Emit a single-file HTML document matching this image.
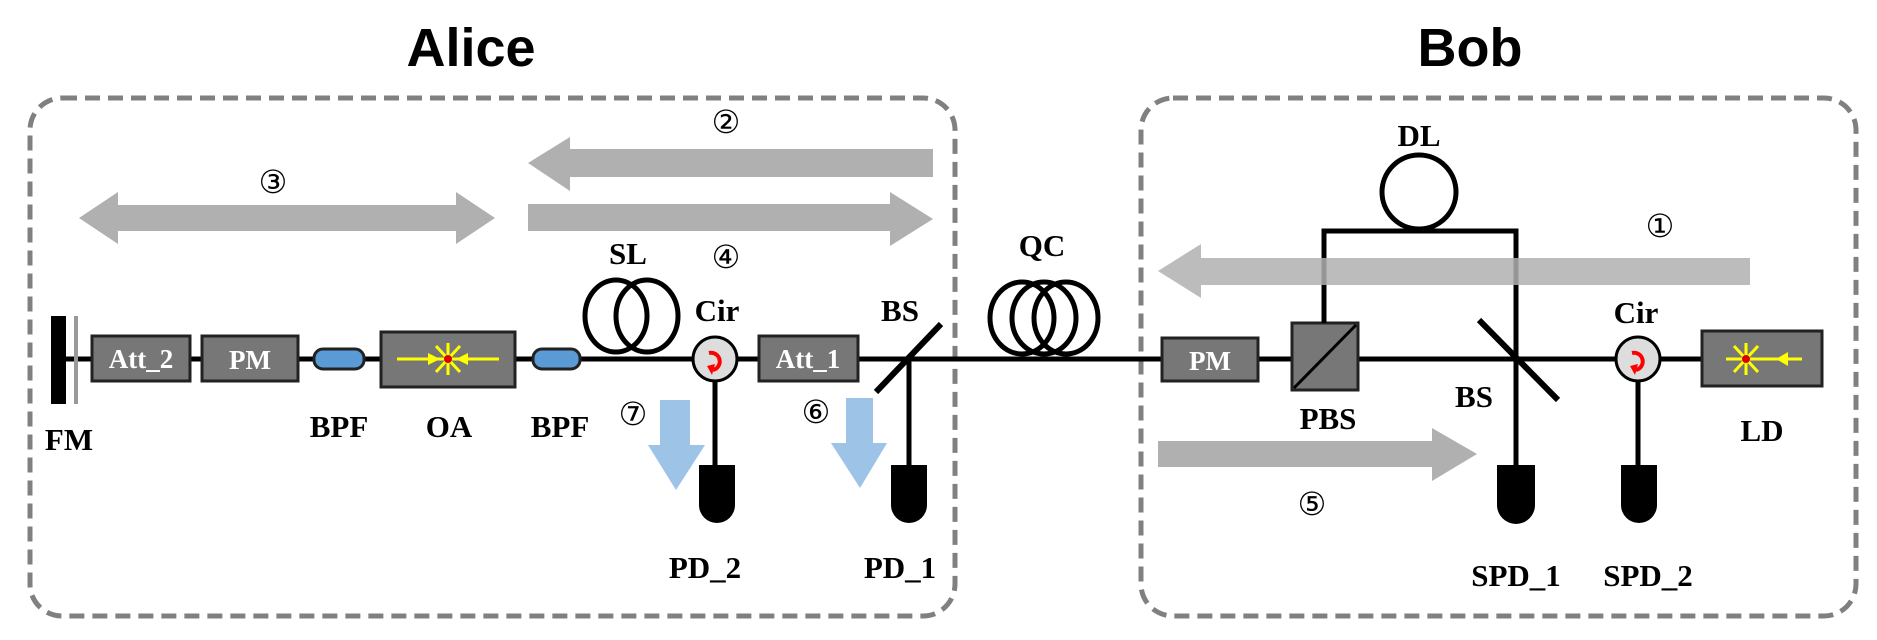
<!DOCTYPE html>
<html><head><meta charset="utf-8"><style>
html,body{margin:0;padding:0;background:#fff;width:1877px;height:640px;overflow:hidden}
svg{display:block}
.t{font-family:"Liberation Serif",serif;font-weight:bold;font-size:31px;fill:#000;text-anchor:middle}
.w{font-family:"Liberation Serif",serif;font-weight:bold;font-size:27px;fill:#fff;text-anchor:middle}
.n{font-family:"DejaVu Serif","Liberation Serif",serif;font-size:32px;fill:#000;text-anchor:middle}
.h{font-family:"Liberation Sans",sans-serif;font-weight:bold;font-size:54px;fill:#000;text-anchor:middle}
.box{fill:#777;stroke:#222;stroke-width:3}
</style></head><body>
<svg width="1877" height="640" viewBox="0 0 1877 640" xmlns="http://www.w3.org/2000/svg">
<text class="h" x="471" y="66">Alice</text>
<text class="h" x="1470" y="66">Bob</text>
<rect x="30" y="98" width="925" height="518" rx="32" fill="none" stroke="#808080" stroke-width="5" stroke-dasharray="15 8"/>
<rect x="1141" y="98" width="715" height="518" rx="32" fill="none" stroke="#808080" stroke-width="5" stroke-dasharray="15 8"/>

<g fill="#b0b0b0">
<polygon points="79,218 118,192 118,205 456,205 456,192 495,218 456,244 456,231 118,231 118,244"/>
<polygon points="528,163 570,137 570,149 933,149 933,177 570,177 570,191"/>
<polygon points="528,204 890,204 890,192 933,219 890,246 890,231 528,231"/>
<polygon points="1158,441 1432,441 1432,428 1477,454 1432,481 1432,467 1158,467"/>
</g>
<text class="n" x="273" y="193">③</text>
<text class="n" x="726" y="133">②</text>
<text class="n" x="726" y="268">④</text>
<text class="n" x="1312" y="515">⑤</text>
<text class="n" x="1660" y="237">①</text>
<text class="n" x="633" y="425">⑦</text>
<text class="n" x="816" y="423">⑥</text>

<line x1="66" y1="359" x2="1701" y2="359" stroke="#000" stroke-width="5"/>
<rect x="51" y="316" width="15" height="88" fill="#000"/>
<rect x="74" y="316" width="4" height="88" fill="#999"/>
<rect class="box" x="92" y="336" width="98" height="45"/><text class="w" x="141" y="368">Att_2</text>
<rect class="box" x="202" y="336" width="96" height="45"/><text class="w" x="250" y="369">PM</text>
<rect x="314" y="349" width="50" height="20" rx="9" fill="#5b9bd5" stroke="#222" stroke-width="3"/>
<rect class="box" x="381" y="332" width="134" height="55"/>
<g stroke="#ff0" stroke-width="3">
<line x1="448" y1="343" x2="448" y2="375"/><line x1="436" y1="346" x2="460" y2="372"/><line x1="460" y1="346" x2="436" y2="372"/>
<line x1="397" y1="359" x2="499" y2="359"/>
</g>
<polygon points="440,359 428,353 428,365" fill="#ff0"/><polygon points="456,359 468,353 468,365" fill="#ff0"/>
<circle cx="448" cy="359" r="4" fill="#d00"/>
<rect x="533" y="349" width="47" height="20" rx="9" fill="#5b9bd5" stroke="#222" stroke-width="3"/>
<ellipse cx="616" cy="316" rx="31" ry="36" fill="none" stroke="#000" stroke-width="5"/>
<ellipse cx="647" cy="316" rx="31" ry="36" fill="none" stroke="#000" stroke-width="5"/>
<line x1="715" y1="359" x2="715" y2="470" stroke="#000" stroke-width="5"/>
<circle cx="715" cy="359" r="22" fill="#ddd" stroke="#000" stroke-width="3"/>
<path d="M709,353 A8,8 0 1 1 713,370" fill="none" stroke="#f00" stroke-width="4"/>
<polygon points="707,366 715,364 712,375" fill="#f00"/>
<rect class="box" x="759" y="336" width="99" height="45"/><text class="w" x="808" y="368">Att_1</text>
<line x1="909" y1="359" x2="909" y2="470" stroke="#000" stroke-width="5"/>
<line x1="876" y1="392" x2="941" y2="324" stroke="#000" stroke-width="6"/>
<path d="M699,465 H735 V505 A18,18 0 0 1 699,505 Z" fill="#000"/>
<path d="M891,465 H927 V505 A18,18 0 0 1 891,505 Z" fill="#000"/>
<polygon points="660,400 690,400 690,445 705,445 676,490 648,445 660,445" fill="#9dc3e6"/>
<polygon points="846,398 873,398 873,443 887,443 860,488 831,443 846,443" fill="#9dc3e6"/>
<g fill="none" stroke="#000" stroke-width="5">
<ellipse cx="1022" cy="318" rx="32" ry="36"/><ellipse cx="1044" cy="318" rx="32" ry="36"/><ellipse cx="1066" cy="318" rx="32" ry="36"/>
</g>
<rect class="box" x="1162" y="338" width="96" height="43"/><text class="w" x="1210" y="370">PM</text>
<rect class="box" x="1292" y="323" width="66" height="67"/>
<line x1="1294" y1="388" x2="1356" y2="325" stroke="#000" stroke-width="3"/>
<path d="M1324,323 V231 H1516 V470" fill="none" stroke="#000" stroke-width="5"/>
<circle cx="1419" cy="192" r="37" fill="#fff" stroke="#000" stroke-width="5"/>
<line x1="1479" y1="320" x2="1558" y2="400" stroke="#000" stroke-width="6"/>
<path d="M1497,465 H1535 V505 A19,19 0 0 1 1497,505 Z" fill="#000"/>
<line x1="1638" y1="359" x2="1638" y2="470" stroke="#000" stroke-width="5"/>
<circle cx="1638" cy="359" r="22" fill="#ddd" stroke="#000" stroke-width="3"/>
<path d="M1632,353 A8,8 0 1 1 1636,370" fill="none" stroke="#f00" stroke-width="4"/>
<polygon points="1630,366 1638,364 1635,375" fill="#f00"/>
<path d="M1621,465 H1657 V505 A18,18 0 0 1 1621,505 Z" fill="#000"/>
<rect class="box" x="1702" y="331" width="120" height="55"/>
<g stroke="#ff0" stroke-width="3">
<line x1="1746" y1="343" x2="1746" y2="375"/><line x1="1734" y1="346" x2="1758" y2="372"/><line x1="1758" y1="346" x2="1734" y2="372"/>
<line x1="1726" y1="359" x2="1802" y2="359"/>
</g>
<polygon points="1776,359 1788,352 1788,366" fill="#ff0"/>
<circle cx="1746" cy="359" r="4" fill="#d00"/>
<polygon points="1158,271 1201,244 1201,258 1750,258 1750,285 1201,285 1201,298" fill="#b0b0b0" opacity="0.85"/>

<text class="t" x="69" y="450">FM</text>
<text class="t" x="339" y="437">BPF</text>
<text class="t" x="449" y="437">OA</text>
<text class="t" x="560" y="437">BPF</text>
<text class="t" x="628" y="264">SL</text>
<text class="t" x="717" y="321">Cir</text>
<text class="t" x="900" y="321">BS</text>
<text class="t" x="705" y="578">PD_2</text>
<text class="t" x="900" y="578">PD_1</text>
<text class="t" x="1042" y="256">QC</text>
<text class="t" x="1419" y="146">DL</text>
<text class="t" x="1328" y="429">PBS</text>
<text class="t" x="1474" y="407">BS</text>
<text class="t" x="1636" y="323">Cir</text>
<text class="t" x="1762" y="441">LD</text>
<text class="t" x="1516" y="586">SPD_1</text>
<text class="t" x="1648" y="586">SPD_2</text>
</svg>
</body></html>
